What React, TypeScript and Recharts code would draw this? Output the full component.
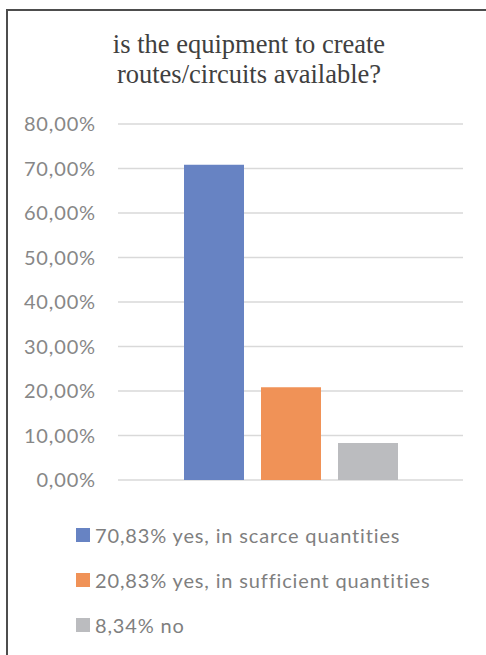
import { BarChart, Bar, XAxis, YAxis, CartesianGrid } from 'recharts'

const seriesKeys = ['scarce', 'sufficient', 'no']
const seriesLabels = ['70,83% yes, in scarce quantities', '20,83% yes, in sufficient quantities', '8,34% no']
const seriesValues = [70.83, 20.83, 8.34]
const seriesColors = ['#6783c3', '#f09257', '#bbbcbf']
const yTicks = [0, 10, 20, 30, 40, 50, 60, 70, 80]

const row: Record<string, number | string> = { name: '' }
seriesKeys.forEach((k, i) => { row[k] = seriesValues[i] })
const data = [row]

const fmt = (v: number) => v.toFixed(2).replace('.', ',') + '%'

const textFont = { fontFamily: 'Lato', fontSize: 20, letterSpacing: 0.85 }

export default function App() {
  return (
    <div style={{ position: 'fixed', left: 0, top: 0, width: 486, height: 655, overflow: 'hidden', background: '#fff' }}>
      <div style={{ position: 'absolute', left: 6, top: 9, width: 600, height: 800, borderLeft: '2px solid #4d4d4d', borderTop: '2px solid #4d4d4d' }} />
      <div style={{ position: 'absolute', left: 0, width: 498, top: 29, textAlign: 'center', fontFamily: '"Liberation Serif", serif', fontSize: 26.5, lineHeight: '30px', color: '#404040' }}>
        is the equipment to create<br />routes/circuits available?
      </div>
      <div style={{ position: 'absolute', left: 0, top: 0 }}>
        <BarChart width={486} height={655} data={data} margin={{ top: 124, right: 23, bottom: 175, left: 0 }} barSize={60} barGap={17}>
          <CartesianGrid horizontal vertical={false} stroke="#d9d9d9" strokeWidth={1.5} />
          <XAxis dataKey="name" hide />
          <YAxis
            width={118}
            domain={[0, 80]}
            ticks={yTicks}
            tickFormatter={fmt}
            axisLine={false}
            tickLine={false}
            tickMargin={16}
            tick={{ ...textFont, fill: '#878787' }}
            interval={0}
          />
          {seriesKeys.map((k, i) => (
            <Bar key={k} dataKey={k} name={seriesLabels[i]} fill={seriesColors[i]} isAnimationActive={false} />
          ))}
        </BarChart>
      </div>
      <div style={{ position: 'absolute', left: 76, top: 512 }}>
        {seriesKeys.map((k, i) => (
          <div key={k} style={{ display: 'flex', alignItems: 'center', height: 45 }}>
            <span style={{ width: 14, height: 14, background: seriesColors[i], marginRight: 5 }} />
            <span style={{ ...textFont, color: '#7f7f7f' }}>{seriesLabels[i]}</span>
          </div>
        ))}
      </div>
    </div>
  )
}
